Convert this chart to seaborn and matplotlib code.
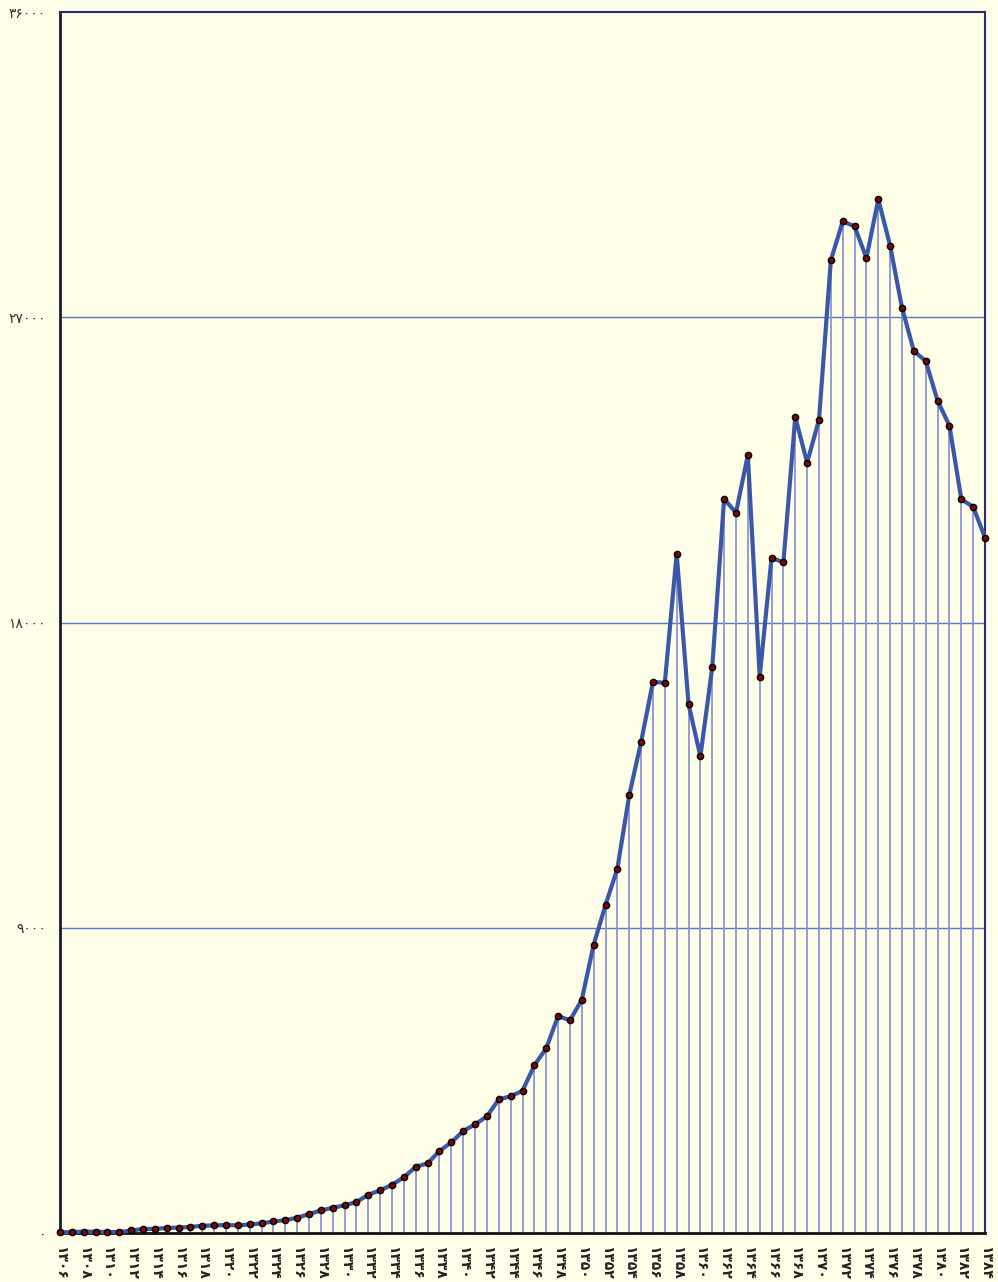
import matplotlib
matplotlib.use("Agg")
import matplotlib.pyplot as plt
import numpy as np
import pandas as pd
import seaborn as sns

years = list(range(1306, 1385))
values = [20, 30, 40, 40, 30, 30, 75, 120, 120, 150,
          160, 180, 215, 225, 235, 225, 255, 285, 340, 380,
          450, 560, 665, 745, 817, 914, 1130, 1258, 1425, 1642,
          1955, 2054, 2418, 2673, 3007, 3204, 3440, 3941, 4030, 4196,
          4944, 5445, 6398, 6270, 6879, 8500, 9674, 10747, 12911, 14479,
          16252, 16222, 20029, 15594, 14055, 16685, 21647, 21235, 22936, 16408,
          19905, 19775, 24059, 22712, 23980, 28679, 29829, 29681, 28747, 30478,
          29110, 27282, 26005, 25710, 24540, 23803, 21633, 21414, 20500]
y_ticks = [0, 9000, 18000, 27000, 36000]
x_ticks = list(range(1306, 1385, 2))

FA = str.maketrans("0123456789", "۰۱۲۳۴۵۶۷۸۹")


def fa(n):
    return str(n).translate(FA)


df = pd.DataFrame({"year": years, "value": values})

bg = "#fdfde8"
sns.set_style("white")
plt.rcParams["font.family"] = ["DejaVu Sans"]

fig = plt.figure(figsize=(9.98, 12.82), dpi=100, facecolor=bg)
ax = fig.add_axes([0.0601, 0.0382, 0.9269, 0.9524])
ax.set_facecolor(bg)

for t in y_ticks[1:-1]:
    ax.axhline(t, color="#5a78c4", lw=1.0, zorder=1)

ax.vlines(df["year"], 0, df["value"], color="#8c94d4", lw=1.3, zorder=2)
sns.lineplot(data=df, x="year", y="value", ax=ax, color="#3b58a8", lw=3,
             marker="o", markersize=4.5, markerfacecolor="#7a0808",
             markeredgecolor="black", markeredgewidth=1.0, zorder=3)

ax.set_xlim(1306, 1384)
ax.set_ylim(0, 36000)
ax.set_xlabel("")
ax.set_ylabel("")

ax.set_yticks(y_ticks)
ax.set_yticklabels([fa(t) for t in y_ticks], fontsize=10, color="#333333")
ax.set_xticks(x_ticks)
ax.set_xticklabels([fa(t) for t in x_ticks], rotation=270, fontsize=10,
                   fontweight="bold", color="#222222")
ax.tick_params(axis="both", length=0)
ax.tick_params(axis="x", pad=9)
ax.tick_params(axis="y", pad=10)

for side in ["top", "right"]:
    ax.spines[side].set_color("#2b2b6e")
    ax.spines[side].set_linewidth(1.5)
ax.spines["left"].set_color("#1a1a30")
ax.spines["left"].set_linewidth(2)
ax.spines["bottom"].set_color("#111111")
ax.spines["bottom"].set_linewidth(2)
for c in ax.get_lines():
    c.set_clip_on(False)

fig.savefig("out.png", dpi=100, facecolor=bg)
